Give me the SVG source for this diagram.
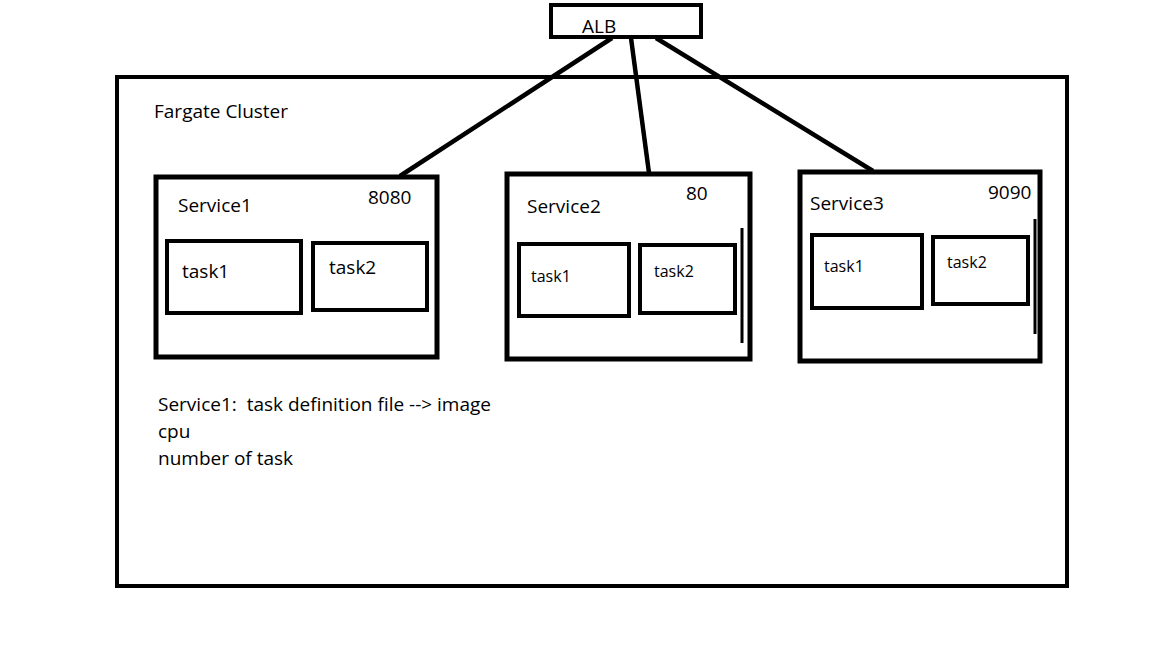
<svg xmlns="http://www.w3.org/2000/svg" width="1152" height="648" viewBox="0 0 1152 648">
<style>
.b{fill:none;stroke:#000;stroke-width:4}
.s{fill:none;stroke:#000;stroke-width:5}
.t{font-family:"Open Sans","Noto Sans",sans-serif;font-size:19px;fill:#000}
.k{font-family:"Open Sans","Noto Sans",sans-serif;font-size:16px;fill:#000}
.c{stroke:#000;stroke-width:4.5;fill:none}
</style>
<rect width="1152" height="648" fill="#fff"/>
<g id="cluster">
<rect class="b" x="117" y="77" width="950" height="509"/>
<text class="t" x="154" y="118">Fargate Cluster</text>
</g>
<g id="connectors">
<line class="c" x1="612" y1="38" x2="400" y2="176"/>
<line class="c" x1="631" y1="38" x2="649" y2="173"/>
<line class="c" x1="656" y1="38" x2="873" y2="171"/>
</g>
<g id="alb">
<rect class="b" x="551" y="5" width="150" height="32" fill="#fff"/>
<text class="t" x="582" y="33">ALB</text>
</g>
<g id="service1">
<rect class="s" x="156" y="177" width="281" height="180"/>
<text class="t" x="178" y="212">Service1</text>
<text class="t" x="368" y="204">8080</text>
</g>
<g id="s1task1"><rect class="b" x="167" y="241" width="134" height="72"/><text class="t" x="182" y="278">task1</text></g>
<g id="s1task2"><rect class="b" x="313" y="243" width="114" height="67"/><text class="t" x="329" y="274">task2</text></g>
<g id="service2">
<rect class="s" x="507" y="174" width="243" height="185"/>
<text class="t" x="527" y="213">Service2</text>
<text class="t" x="686" y="200">80</text>
<line stroke="#000" stroke-width="3" x1="742" y1="228" x2="742" y2="343"/>
</g>
<g id="s2task1"><rect class="b" x="519" y="244" width="110" height="72"/><text class="k" x="531" y="282">task1</text></g>
<g id="s2task2"><rect class="b" x="640" y="245" width="95" height="68"/><text class="k" x="654" y="277">task2</text></g>
<g id="service3">
<rect class="s" x="800" y="172" width="240" height="189"/>
<text class="t" x="810" y="210">Service3</text>
<text class="t" x="988" y="199">9090</text>
<line stroke="#000" stroke-width="3" x1="1035" y1="219" x2="1035" y2="334"/>
</g>
<g id="s3task1"><rect class="b" x="812" y="235" width="110" height="73"/><text class="k" x="824" y="272">task1</text></g>
<g id="s3task2"><rect class="b" x="933" y="237" width="95" height="67"/><text class="k" x="947" y="268">task2</text></g>
<g id="notes">
<text class="t" x="158" y="411" xml:space="preserve">Service1:  task definition file --&gt; image</text>
<text class="t" x="158" y="438">cpu</text>
<text class="t" x="158" y="465">number of task</text>
</g>
</svg>
